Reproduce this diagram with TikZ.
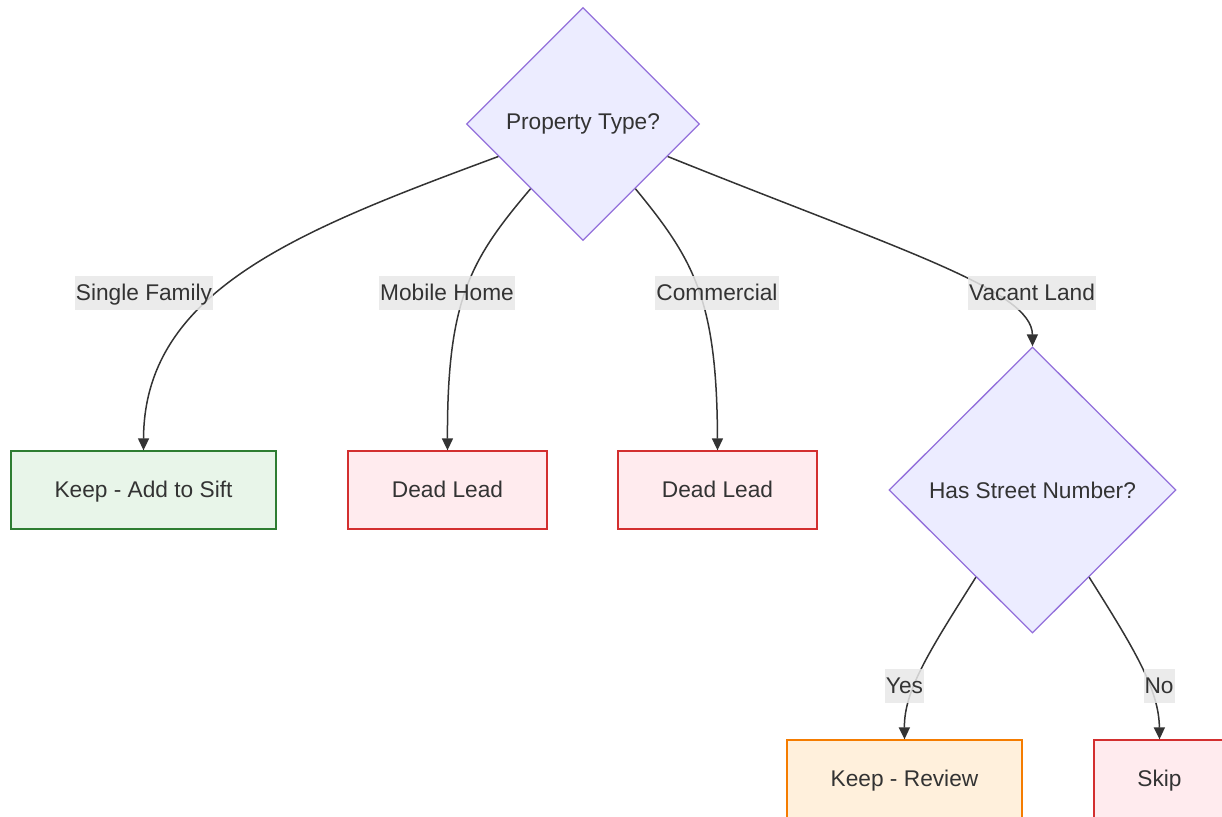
\documentclass[tikz,border=0pt]{standalone}
\usepackage{fontspec}
\setmainfont{Liberation Sans}
\usetikzlibrary{shapes.geometric,arrows.meta}
\definecolor{txt}{HTML}{333333}
\definecolor{decfill}{HTML}{ECECFF}
\definecolor{decdraw}{HTML}{9370DB}
\definecolor{gfill}{HTML}{E8F5E9}
\definecolor{gdraw}{HTML}{2E7D32}
\definecolor{rfill}{HTML}{FFEBEE}
\definecolor{rdraw}{HTML}{D32F2F}
\definecolor{ofill}{HTML}{FFF0DC}
\definecolor{odraw}{HTML}{F57C00}
\definecolor{lblbg}{HTML}{E8E8E8}
\tikzset{
  base/.style={font=\fontsize{22.7}{27}\selectfont, text=txt, line width=1.3pt},
  decision/.style={base, diamond, aspect=1, fill=decfill, draw=decdraw, inner sep=0pt},
  boxbase/.style={base, rectangle, minimum height=78pt, inner sep=0pt, text height=18pt, text depth=4pt},
  goodbox/.style={boxbase, fill=gfill, draw=gdraw},
  deadbox/.style={boxbase, fill=rfill, draw=rdraw},
  revbox/.style={boxbase, fill=ofill, draw=odraw},
  elabel/.style={font=\fontsize{22.7}{27}\selectfont, text=txt, fill=lblbg, fill opacity=0.85, text opacity=1, inner xsep=1pt, inner ysep=0pt, minimum height=34pt, text height=18pt, text depth=4pt},
  edge/.style={draw=txt, line width=1.5pt, -{Triangle[length=12pt,width=11pt]}}
}
\begin{document}
\begin{tikzpicture}[x=1pt,y=-1pt]
\useasboundingbox[fill=white] (0,0) rectangle (1222,816);
\node[decision, minimum width=233pt, minimum height=233pt] (pt) at (583,124) {Property Type?};
\node[goodbox, minimum width=265pt] (sf) at (143.5,490) {Keep - Add to Sift};
\node[deadbox, minimum width=199pt] (dl1) at (447.5,490) {Dead Lead};
\node[deadbox, minimum width=199pt] (dl2) at (717.5,490) {Dead Lead};
\node[decision, minimum width=287pt, minimum height=286pt] (hs) at (1032.5,490) {Has Street Number?};
\node[revbox, minimum width=235pt] (kr) at (904.5,779) {Keep - Review};
\node[deadbox, minimum width=131pt] (sk) at (1159.5,779) {Skip};

\draw[edge] (pt.201) .. controls (300,230) and (144,290) .. (sf.north);
\draw[edge] (pt.231) .. controls (470,260) and (447,300) .. (dl1.north);
\draw[edge] (pt.309) .. controls (694,260) and (717,300) .. (dl2.north);
\draw[edge] (pt.339) .. controls (900,250) and (1032,290) .. (hs.north);
\draw[edge] (hs.237) .. controls (930,650) and (904,690) .. (kr.north);
\draw[edge] (hs.303) .. controls (1135,650) and (1159,690) .. (sk.north);

\node[elabel] (l1) at (144,293) {Single Family};
\node[elabel] (l2) at (447,293) {Mobile Home};
\node[elabel] (l3) at (717,293) {Commercial};
\node[elabel] (l4) at (1032,293) {Vacant Land};
\node[elabel] (l5) at (904.5,686) {Yes};
\node[elabel] (l6) at (1159,686) {No};
\end{tikzpicture}
\end{document}
